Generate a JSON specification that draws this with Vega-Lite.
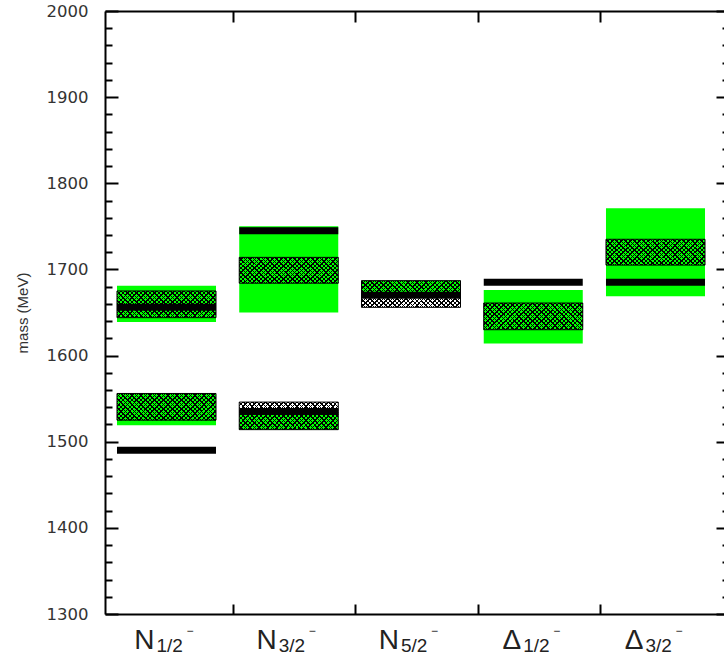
{
"$schema":"https://vega.github.io/schema/vega-lite/v6.json",
"width":619,"height":603,
"autosize":"none",
"padding":{"left":105,"top":11,"right":0,"bottom":51},
"background":"#ffffff",
"config":{"view":{"stroke":null},"axis":{"grid":false,"domainColor":"#000","tickColor":"#000","labelColor":"#333","titleColor":"#333","titleFontSize":15,"titleFont":"Liberation Sans","titleFontWeight":"normal"}},
"datasets":{
 "green":[
  {"cat":"N1/2","lo":1639,"hi":1681},
  {"cat":"N1/2","lo":1519,"hi":1556},
  {"cat":"N3/2","lo":1650,"hi":1750},
  {"cat":"N3/2","lo":1514,"hi":1535},
  {"cat":"N5/2","lo":1668,"hi":1687},
  {"cat":"Δ1/2","lo":1614,"hi":1676},
  {"cat":"Δ3/2","lo":1669,"hi":1771}
 ],
 "hatch":[
  {"cat":"N1/2","lo":1644,"hi":1675},
  {"cat":"N1/2","lo":1525,"hi":1556},
  {"cat":"N3/2","lo":1684,"hi":1714},
  {"cat":"N3/2","lo":1514,"hi":1546},
  {"cat":"N5/2","lo":1656,"hi":1687},
  {"cat":"Δ1/2","lo":1630,"hi":1661},
  {"cat":"Δ3/2","lo":1705,"hi":1735}
 ],
 "model":[
  {"cat":"N1/2","mass":1656},
  {"cat":"N1/2","mass":1490},
  {"cat":"N3/2","mass":1745},
  {"cat":"N3/2","mass":1535},
  {"cat":"N5/2","mass":1670},
  {"cat":"Δ1/2","mass":1685},
  {"cat":"Δ3/2","mass":1685}
 ],
 "labels":[
  {"cat":"N1/2","main":"N","sub":"1/2"},
  {"cat":"N3/2","main":"N","sub":"3/2"},
  {"cat":"N5/2","main":"N","sub":"5/2"},
  {"cat":"Δ1/2","main":"Δ","sub":"1/2"},
  {"cat":"Δ3/2","main":"Δ","sub":"3/2"}
 ]
},
"layer":[
 {"data":{"name":"green"},
  "mark":{"type":"bar","color":"#00ff00"},
  "encoding":{
   "x":{"field":"cat","type":"nominal",
        "scale":{"type":"band","domain":["N1/2","N3/2","N5/2","Δ1/2","Δ3/2"],"paddingInner":0.19,"paddingOuter":0.1267,"align":0.387},
        "axis":{"orient":"bottom","title":null,"labels":false,"domainWidth":2,"tickWidth":2,"tickSize":-10,"bandPosition":0,"tickOffset":-6,"values":["N3/2","N5/2","Δ1/2","Δ3/2"]}},
   "y":{"field":"lo","type":"quantitative","scale":{"domain":[1300,2000],"nice":false,"zero":false},
        "axis":{"orient":"left","title":"mass (MeV)",
                "values":[1300,1320,1340,1360,1380,1400,1420,1440,1460,1480,1500,1520,1540,1560,1580,1600,1620,1640,1660,1680,1700,1720,1740,1760,1780,1800,1820,1840,1860,1880,1900,1920,1940,1960,1980,2000],
                "format":"d","labelExpr":"datum.value % 100 === 0 ? datum.label : ''",
                "tickSize":{"condition":{"test":"datum.value % 100 === 0","value":-13},"value":-7},
                "tickWidth":2,"domainWidth":2,"labelPadding":30,"labelFont":"DejaVu Sans","labelFontSize":16.5,
                "labelOverlap":false,"labelFlush":false,"labelBound":false,
                "titleFont":"Liberation Sans","titleFontSize":15,"titleFontWeight":"normal","titlePadding":16}},
   "y2":{"field":"hi"}
  }},
 {"data":{"name":"hatch"},
  "mark":{"type":"bar","stroke":null,"fill":{"gradient":"linear","x1":0,"y1":0,"x2":1.1827,"y2":0.3159,"stops":[
{"offset":0,"color":"rgba(0,0,0,0)"},{"offset":0.0243,"color":"rgba(0,0,0,0)"},{"offset":0.0243,"color":"#000"},{"offset":0.0357,"color":"#000"},
{"offset":0.0357,"color":"rgba(0,0,0,0)"},{"offset":0.06,"color":"rgba(0,0,0,0)"},{"offset":0.06,"color":"#000"},{"offset":0.0714,"color":"#000"},
{"offset":0.0714,"color":"rgba(0,0,0,0)"},{"offset":0.0957,"color":"rgba(0,0,0,0)"},{"offset":0.0957,"color":"#000"},{"offset":0.1071,"color":"#000"},
{"offset":0.1071,"color":"rgba(0,0,0,0)"},{"offset":0.1314,"color":"rgba(0,0,0,0)"},{"offset":0.1314,"color":"#000"},{"offset":0.1429,"color":"#000"},
{"offset":0.1429,"color":"rgba(0,0,0,0)"},{"offset":0.1671,"color":"rgba(0,0,0,0)"},{"offset":0.1671,"color":"#000"},{"offset":0.1786,"color":"#000"},
{"offset":0.1786,"color":"rgba(0,0,0,0)"},{"offset":0.2029,"color":"rgba(0,0,0,0)"},{"offset":0.2029,"color":"#000"},{"offset":0.2143,"color":"#000"},
{"offset":0.2143,"color":"rgba(0,0,0,0)"},{"offset":0.2386,"color":"rgba(0,0,0,0)"},{"offset":0.2386,"color":"#000"},{"offset":0.25,"color":"#000"},
{"offset":0.25,"color":"rgba(0,0,0,0)"},{"offset":0.2743,"color":"rgba(0,0,0,0)"},{"offset":0.2743,"color":"#000"},{"offset":0.2857,"color":"#000"},
{"offset":0.2857,"color":"rgba(0,0,0,0)"},{"offset":0.31,"color":"rgba(0,0,0,0)"},{"offset":0.31,"color":"#000"},{"offset":0.3214,"color":"#000"},
{"offset":0.3214,"color":"rgba(0,0,0,0)"},{"offset":0.3457,"color":"rgba(0,0,0,0)"},{"offset":0.3457,"color":"#000"},{"offset":0.3571,"color":"#000"},
{"offset":0.3571,"color":"rgba(0,0,0,0)"},{"offset":0.3814,"color":"rgba(0,0,0,0)"},{"offset":0.3814,"color":"#000"},{"offset":0.3929,"color":"#000"},
{"offset":0.3929,"color":"rgba(0,0,0,0)"},{"offset":0.4171,"color":"rgba(0,0,0,0)"},{"offset":0.4171,"color":"#000"},{"offset":0.4286,"color":"#000"},
{"offset":0.4286,"color":"rgba(0,0,0,0)"},{"offset":0.4529,"color":"rgba(0,0,0,0)"},{"offset":0.4529,"color":"#000"},{"offset":0.4643,"color":"#000"},
{"offset":0.4643,"color":"rgba(0,0,0,0)"},{"offset":0.4886,"color":"rgba(0,0,0,0)"},{"offset":0.4886,"color":"#000"},{"offset":0.5,"color":"#000"},
{"offset":0.5,"color":"rgba(0,0,0,0)"},{"offset":0.5243,"color":"rgba(0,0,0,0)"},{"offset":0.5243,"color":"#000"},{"offset":0.5357,"color":"#000"},
{"offset":0.5357,"color":"rgba(0,0,0,0)"},{"offset":0.56,"color":"rgba(0,0,0,0)"},{"offset":0.56,"color":"#000"},{"offset":0.5714,"color":"#000"},
{"offset":0.5714,"color":"rgba(0,0,0,0)"},{"offset":0.5957,"color":"rgba(0,0,0,0)"},{"offset":0.5957,"color":"#000"},{"offset":0.6071,"color":"#000"},
{"offset":0.6071,"color":"rgba(0,0,0,0)"},{"offset":0.6314,"color":"rgba(0,0,0,0)"},{"offset":0.6314,"color":"#000"},{"offset":0.6429,"color":"#000"},
{"offset":0.6429,"color":"rgba(0,0,0,0)"},{"offset":0.6671,"color":"rgba(0,0,0,0)"},{"offset":0.6671,"color":"#000"},{"offset":0.6786,"color":"#000"},
{"offset":0.6786,"color":"rgba(0,0,0,0)"},{"offset":0.7029,"color":"rgba(0,0,0,0)"},{"offset":0.7029,"color":"#000"},{"offset":0.7143,"color":"#000"},
{"offset":0.7143,"color":"rgba(0,0,0,0)"},{"offset":0.7386,"color":"rgba(0,0,0,0)"},{"offset":0.7386,"color":"#000"},{"offset":0.75,"color":"#000"},
{"offset":0.75,"color":"rgba(0,0,0,0)"},{"offset":0.7743,"color":"rgba(0,0,0,0)"},{"offset":0.7743,"color":"#000"},{"offset":0.7857,"color":"#000"},
{"offset":0.7857,"color":"rgba(0,0,0,0)"},{"offset":0.81,"color":"rgba(0,0,0,0)"},{"offset":0.81,"color":"#000"},{"offset":0.8214,"color":"#000"},
{"offset":0.8214,"color":"rgba(0,0,0,0)"},{"offset":0.8457,"color":"rgba(0,0,0,0)"},{"offset":0.8457,"color":"#000"},{"offset":0.8571,"color":"#000"},
{"offset":0.8571,"color":"rgba(0,0,0,0)"},{"offset":0.8814,"color":"rgba(0,0,0,0)"},{"offset":0.8814,"color":"#000"},{"offset":0.8929,"color":"#000"},
{"offset":0.8929,"color":"rgba(0,0,0,0)"},{"offset":0.9171,"color":"rgba(0,0,0,0)"},{"offset":0.9171,"color":"#000"},{"offset":0.9286,"color":"#000"},
{"offset":0.9286,"color":"rgba(0,0,0,0)"},{"offset":0.9529,"color":"rgba(0,0,0,0)"},{"offset":0.9529,"color":"#000"},{"offset":0.9643,"color":"#000"},
{"offset":0.9643,"color":"rgba(0,0,0,0)"},{"offset":0.9886,"color":"rgba(0,0,0,0)"},{"offset":0.9886,"color":"#000"},{"offset":1,"color":"#000"}
]}},
  "encoding":{
   "x":{"field":"cat","type":"nominal",
        "axis":{"orient":"top","title":null,"labels":false,"domainWidth":2,"tickWidth":2,"tickSize":-11,"bandPosition":0,"tickOffset":-6,"values":["N3/2","N5/2","Δ1/2","Δ3/2"]}},
   "y":{"field":"lo","type":"quantitative",
        "axis":{"orient":"right","title":null,"labels":false,"domain":false,
                "values":[1300,1320,1340,1360,1380,1400,1420,1440,1460,1480,1500,1520,1540,1560,1580,1600,1620,1640,1660,1680,1700,1720,1740,1760,1780,1800,1820,1840,1860,1880,1900,1920,1940,1960,1980,2000],
                "tickSize":{"condition":{"test":"datum.value % 100 === 0","value":-8},"value":-2},"tickWidth":2}},
   "y2":{"field":"hi"}
  }},
 {"data":{"name":"hatch"},
  "mark":{"type":"bar","stroke":"#000","strokeWidth":1,"fill":{"gradient":"linear","x1":0,"y1":1,"x2":1.1827,"y2":0.6841,"stops":[
{"offset":0,"color":"rgba(0,0,0,0)"},{"offset":0.0243,"color":"rgba(0,0,0,0)"},{"offset":0.0243,"color":"#000"},{"offset":0.0357,"color":"#000"},
{"offset":0.0357,"color":"rgba(0,0,0,0)"},{"offset":0.06,"color":"rgba(0,0,0,0)"},{"offset":0.06,"color":"#000"},{"offset":0.0714,"color":"#000"},
{"offset":0.0714,"color":"rgba(0,0,0,0)"},{"offset":0.0957,"color":"rgba(0,0,0,0)"},{"offset":0.0957,"color":"#000"},{"offset":0.1071,"color":"#000"},
{"offset":0.1071,"color":"rgba(0,0,0,0)"},{"offset":0.1314,"color":"rgba(0,0,0,0)"},{"offset":0.1314,"color":"#000"},{"offset":0.1429,"color":"#000"},
{"offset":0.1429,"color":"rgba(0,0,0,0)"},{"offset":0.1671,"color":"rgba(0,0,0,0)"},{"offset":0.1671,"color":"#000"},{"offset":0.1786,"color":"#000"},
{"offset":0.1786,"color":"rgba(0,0,0,0)"},{"offset":0.2029,"color":"rgba(0,0,0,0)"},{"offset":0.2029,"color":"#000"},{"offset":0.2143,"color":"#000"},
{"offset":0.2143,"color":"rgba(0,0,0,0)"},{"offset":0.2386,"color":"rgba(0,0,0,0)"},{"offset":0.2386,"color":"#000"},{"offset":0.25,"color":"#000"},
{"offset":0.25,"color":"rgba(0,0,0,0)"},{"offset":0.2743,"color":"rgba(0,0,0,0)"},{"offset":0.2743,"color":"#000"},{"offset":0.2857,"color":"#000"},
{"offset":0.2857,"color":"rgba(0,0,0,0)"},{"offset":0.31,"color":"rgba(0,0,0,0)"},{"offset":0.31,"color":"#000"},{"offset":0.3214,"color":"#000"},
{"offset":0.3214,"color":"rgba(0,0,0,0)"},{"offset":0.3457,"color":"rgba(0,0,0,0)"},{"offset":0.3457,"color":"#000"},{"offset":0.3571,"color":"#000"},
{"offset":0.3571,"color":"rgba(0,0,0,0)"},{"offset":0.3814,"color":"rgba(0,0,0,0)"},{"offset":0.3814,"color":"#000"},{"offset":0.3929,"color":"#000"},
{"offset":0.3929,"color":"rgba(0,0,0,0)"},{"offset":0.4171,"color":"rgba(0,0,0,0)"},{"offset":0.4171,"color":"#000"},{"offset":0.4286,"color":"#000"},
{"offset":0.4286,"color":"rgba(0,0,0,0)"},{"offset":0.4529,"color":"rgba(0,0,0,0)"},{"offset":0.4529,"color":"#000"},{"offset":0.4643,"color":"#000"},
{"offset":0.4643,"color":"rgba(0,0,0,0)"},{"offset":0.4886,"color":"rgba(0,0,0,0)"},{"offset":0.4886,"color":"#000"},{"offset":0.5,"color":"#000"},
{"offset":0.5,"color":"rgba(0,0,0,0)"},{"offset":0.5243,"color":"rgba(0,0,0,0)"},{"offset":0.5243,"color":"#000"},{"offset":0.5357,"color":"#000"},
{"offset":0.5357,"color":"rgba(0,0,0,0)"},{"offset":0.56,"color":"rgba(0,0,0,0)"},{"offset":0.56,"color":"#000"},{"offset":0.5714,"color":"#000"},
{"offset":0.5714,"color":"rgba(0,0,0,0)"},{"offset":0.5957,"color":"rgba(0,0,0,0)"},{"offset":0.5957,"color":"#000"},{"offset":0.6071,"color":"#000"},
{"offset":0.6071,"color":"rgba(0,0,0,0)"},{"offset":0.6314,"color":"rgba(0,0,0,0)"},{"offset":0.6314,"color":"#000"},{"offset":0.6429,"color":"#000"},
{"offset":0.6429,"color":"rgba(0,0,0,0)"},{"offset":0.6671,"color":"rgba(0,0,0,0)"},{"offset":0.6671,"color":"#000"},{"offset":0.6786,"color":"#000"},
{"offset":0.6786,"color":"rgba(0,0,0,0)"},{"offset":0.7029,"color":"rgba(0,0,0,0)"},{"offset":0.7029,"color":"#000"},{"offset":0.7143,"color":"#000"},
{"offset":0.7143,"color":"rgba(0,0,0,0)"},{"offset":0.7386,"color":"rgba(0,0,0,0)"},{"offset":0.7386,"color":"#000"},{"offset":0.75,"color":"#000"},
{"offset":0.75,"color":"rgba(0,0,0,0)"},{"offset":0.7743,"color":"rgba(0,0,0,0)"},{"offset":0.7743,"color":"#000"},{"offset":0.7857,"color":"#000"},
{"offset":0.7857,"color":"rgba(0,0,0,0)"},{"offset":0.81,"color":"rgba(0,0,0,0)"},{"offset":0.81,"color":"#000"},{"offset":0.8214,"color":"#000"},
{"offset":0.8214,"color":"rgba(0,0,0,0)"},{"offset":0.8457,"color":"rgba(0,0,0,0)"},{"offset":0.8457,"color":"#000"},{"offset":0.8571,"color":"#000"},
{"offset":0.8571,"color":"rgba(0,0,0,0)"},{"offset":0.8814,"color":"rgba(0,0,0,0)"},{"offset":0.8814,"color":"#000"},{"offset":0.8929,"color":"#000"},
{"offset":0.8929,"color":"rgba(0,0,0,0)"},{"offset":0.9171,"color":"rgba(0,0,0,0)"},{"offset":0.9171,"color":"#000"},{"offset":0.9286,"color":"#000"},
{"offset":0.9286,"color":"rgba(0,0,0,0)"},{"offset":0.9529,"color":"rgba(0,0,0,0)"},{"offset":0.9529,"color":"#000"},{"offset":0.9643,"color":"#000"},
{"offset":0.9643,"color":"rgba(0,0,0,0)"},{"offset":0.9886,"color":"rgba(0,0,0,0)"},{"offset":0.9886,"color":"#000"},{"offset":1,"color":"#000"}
]}},
  "encoding":{
   "x":{"field":"cat","type":"nominal","axis":null},
   "y":{"field":"lo","type":"quantitative","axis":null},
   "y2":{"field":"hi"}
  }},
 {"data":{"name":"model"},
  "mark":{"type":"tick","color":"#000","opacity":1,"thickness":7,"size":99},
  "encoding":{
   "x":{"field":"cat","type":"nominal","axis":null},
   "y":{"field":"mass","type":"quantitative","axis":null}
  }},
 {"data":{"name":"labels"},
  "mark":{"type":"text","align":"right","baseline":"alphabetic","dx":-12,"dy":35,"font":"Liberation Sans","fontSize":28,"color":"#222"},
  "encoding":{
   "x":{"field":"cat","type":"nominal","axis":null},
   "y":{"value":"height"},
   "text":{"field":"main"}
  }},
 {"data":{"name":"labels"},
  "mark":{"type":"text","align":"left","baseline":"alphabetic","dx":-10,"dy":38,"font":"Liberation Sans","fontSize":19,"color":"#222"},
  "encoding":{
   "x":{"field":"cat","type":"nominal","axis":null},
   "y":{"value":"height"},
   "text":{"field":"sub"}
  }},
 {"data":{"name":"labels"},
  "mark":{"type":"text","text":"−","align":"left","baseline":"middle","dx":20,"dy":17,"font":"Liberation Sans","fontSize":12,"color":"#222"},
  "encoding":{
   "x":{"field":"cat","type":"nominal","axis":null},
   "y":{"value":"height"}
  }}
],
"resolve":{"axis":{"x":"independent","y":"independent"}}
}
